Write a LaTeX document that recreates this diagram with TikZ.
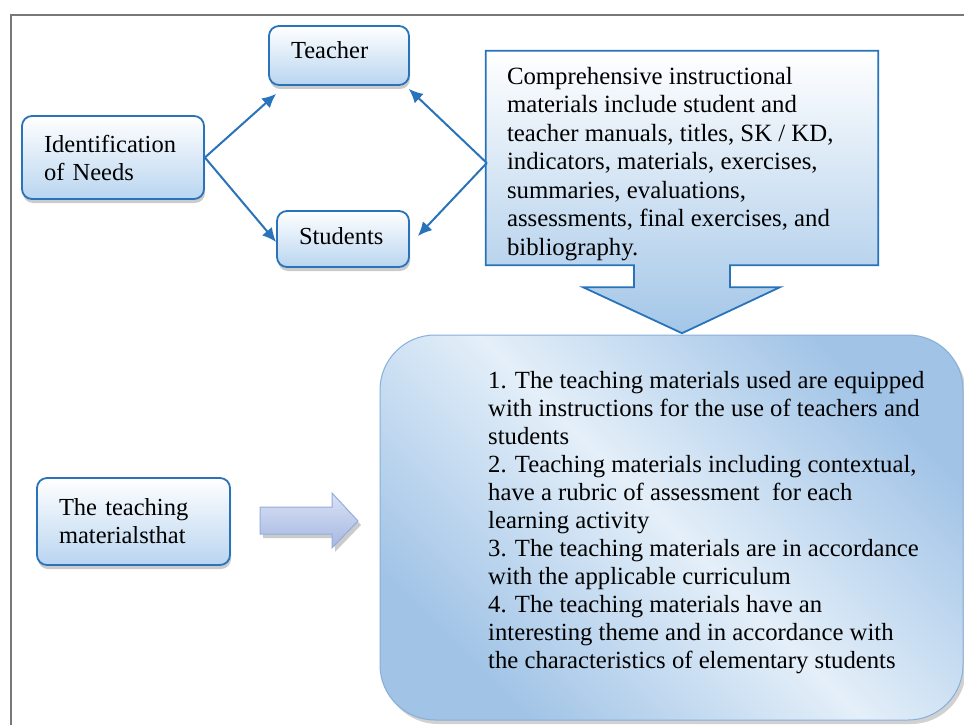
\documentclass[tikz,border=0pt]{standalone}
\usepackage{fontspec}
\setmainfont{Liberation Serif}
\newfontfamily\tnr{Liberation Serif}
\usetikzlibrary{arrows.meta,calc,shadows}
\definecolor{bblue}{RGB}{40,115,185}
\definecolor{lblue}{RGB}{185,213,240}
\definecolor{bigdark}{RGB}{160,195,230}
\definecolor{biglight}{RGB}{228,239,249}
\definecolor{bigedge}{RGB}{135,175,218}
\definecolor{framegray}{RGB}{120,120,120}
\definecolor{arrfilla}{RGB}{218,225,244}
\definecolor{arrfillb}{RGB}{165,184,226}
\definecolor{arredge}{RGB}{145,175,220}
\begin{document}
\begin{tikzpicture}[x=1pt,y=-1pt,
  txt/.style={font=\tnr\fontsize{24.5pt}{28pt}\selectfont},
  nbox/.style={txt, rectangle, rounded corners=10pt, draw=bblue, line width=1.8pt,
    top color=white, bottom color=lblue, align=left, inner xsep=22pt, inner ysep=0pt,
    drop shadow={shadow xshift=1pt, shadow yshift=-4pt, fill=black!45, opacity=0.45}},
  conn/.style={draw=bblue, line width=2pt, -{Latex[length=14pt,width=13pt]}},
  bigbox/.style={rectangle, rounded corners=55pt, draw=bigedge, line width=1pt,
    top color=bigdark, bottom color=bigdark, middle color=biglight, shading angle=-45,
    drop shadow={shadow xshift=3pt, shadow yshift=-4pt, fill=black!45, opacity=0.4}},
  bigtext/.style={font=\tnr\fontsize{24.7pt}{28pt}\selectfont, align=left, inner sep=0pt},
  comptext/.style={font=\tnr\fontsize{24.8pt}{28.5pt}\selectfont, align=left, inner sep=0pt},
  callout/.style={draw=bblue, line width=1.8pt, top color=white, bottom color=lblue!85!bblue},
  blockarrow/.style={draw=arredge, line width=1pt, top color=arrfilla, bottom color=arrfillb},
  frameline/.style={draw=framegray, line width=1.5pt}
]
\useasboundingbox (0,0) rectangle (964,725);
\fill[white] (0,0) rectangle (964,725);
% frame
\draw[frameline] (11,725) -- (11,15) -- (964,15);

% small boxes
\node[nbox, text width=96pt, minimum height=59pt, text depth=10pt] (teacher) at (339,55.5) {Teacher};
\node[nbox, text width=138pt, minimum height=83pt] (idn) at (113,157.5) {Identification\\of Needs};
\node[nbox, text width=88pt, minimum height=56pt, text depth=6pt] (students) at (343,239) {Students};
\node[nbox, text width=149pt, minimum height=87pt] (teach) at (133.5,521.5) {The teaching\\materialsthat};

% comprehensive callout
\node[minimum width=392pt, minimum height=214pt, inner sep=0pt] (comp) at (682,158) {};
\path[callout] (comp.north west) -- (comp.north east) -- (comp.south east)
  -- ($(comp.south)+(48,0)$) -- ($(comp.south)+(48,22)$) -- ($(comp.south)+(98,22)$)
  -- ($(comp.south)+(0,68)$) -- ($(comp.south)+(-99,22)$) -- ($(comp.south)+(-48,22)$)
  -- ($(comp.south)+(-48,0)$) -- (comp.south west) -- cycle;
\node[comptext, anchor=north west] (comptxt) at ($(comp.north west)+(21,16)$)
  {Comprehensive instructional\\
   materials include student and\\
   teacher manuals, titles, SK / KD,\\
   indicators, materials, exercises,\\
   summaries, evaluations,\\
   assessments, final exercises, and\\
   bibliography.};

% connectors
\draw[conn] (idn.east) -- ($(teacher.south west)+(8,8)$);
\draw[conn] (idn.east) -- ($(students.west)+(0,3)$);
\draw[conn] ($(comp.west)+(1,5)$) -- ($(teacher.south east)+(-1,3)$);
\draw[conn] ($(comp.west)+(1,5)$) -- ($(students.east)+(8,-3)$);

% big box
\node[bigbox, minimum width=583pt, minimum height=385pt] (big) at (671.5,527.5) {};
\node[bigtext, anchor=north west] (bigtxt) at (488,371)
  {1. The teaching materials used are equipped\\
   with instructions for the use of teachers and\\
   students\\
   2. Teaching materials including contextual,\\
   have a rubric of assessment\ \ for each\\
   learning activity\\
   3. The teaching materials are in accordance\\
   with the applicable curriculum\\
   4. The teaching materials have an\\
   interesting theme and in accordance with\\
   the characteristics of elementary students};

% block arrow
\fill[black!40, opacity=0.5] (263,511) -- (335,511) -- (335,497) -- (361,525) -- (335,552) -- (335,538) -- (263,538) -- cycle;
\path[blockarrow] (260,507) -- (332,507) -- (332,493) -- (358,521) -- (332,548) -- (332,534) -- (260,534) -- cycle;
\end{tikzpicture}
\end{document}
